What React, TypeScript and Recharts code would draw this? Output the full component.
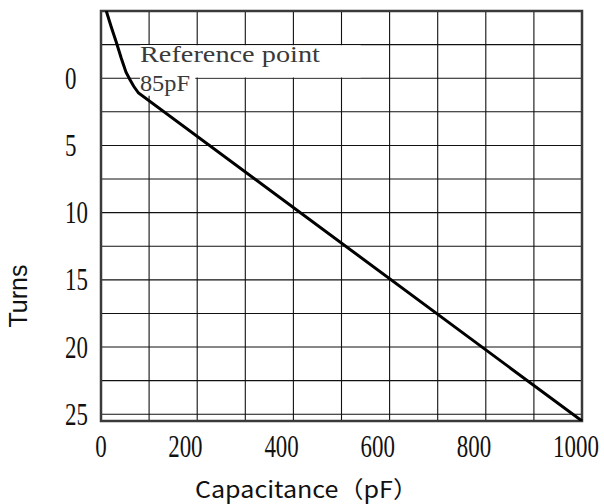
import React from "react";
import {
  LineChart,
  Line,
  XAxis,
  YAxis,
  CartesianGrid,
  ReferenceArea,
} from "recharts";

// capacitance (pF) vs. turns
const capacitance = [11, 21, 32, 42, 52, 60, 68, 78, 1000];
const turns = [-5, -3.85, -2.65, -1.5, -0.45, 0.1, 0.6, 1.1, 25.5];

const xTicks = [0, 100, 200, 300, 400, 500, 600, 700, 800, 900, 1000];
const xLabels = [0, 200, 400, 600, 800, 1000];
const yTicks = [-5, -2.5, 0, 2.5, 5, 7.5, 10, 12.5, 15, 17.5, 20, 22.5, 25];
const yLabels = [0, 5, 10, 15, 20, 25];

const annotation = ["Reference point", "85pF"];

const data = capacitance.map((c, i) => ({ c, t: turns[i] }));

const tickFont = "'Liberation Serif', serif";

// narrow serif digits, like the reference
function NarrowText({ x, y, anchor, children }: any) {
  return (
    <text
      transform={`translate(${x},${y}) scale(0.74,1)`}
      textAnchor={anchor}
      fontFamily={tickFont}
      fontSize={31}
      fill="#111"
    >
      {children}
    </text>
  );
}

function XTick(props: any) {
  const { x, y, payload } = props;
  if (!xLabels.includes(payload.value)) return <g />;
  const s = String(payload.value);
  const single = s.length === 1;
  return (
    <NarrowText x={single ? x : x - 29} y={y + 36} anchor={single ? "middle" : "start"}>
      {s}
    </NarrowText>
  );
}

function YTick(props: any) {
  const { x, y, payload } = props;
  if (!yLabels.includes(payload.value)) return <g />;
  return (
    <NarrowText x={x - 36} y={y + 10.5} anchor="start">
      {String(payload.value)}
    </NarrowText>
  );
}

function AnnotationLabel(props: any) {
  const vb = props.viewBox || { x: 0, y: 0 };
  return (
    <g fontFamily={tickFont} fontSize={23} fill="#3a3a3a">
      <text x={vb.x} y={vb.y + 17} textLength={180} lengthAdjust="spacingAndGlyphs">
        {annotation[0]}
      </text>
      <text x={vb.x} y={vb.y + 46} textLength={50} lengthAdjust="spacingAndGlyphs">
        {annotation[1]}
      </text>
    </g>
  );
}

function TurnsLabel(props: any) {
  const vb = props.viewBox || { x: 0, y: 0 };
  const x = vb.x + 27;
  const y = vb.y + 285;
  return (
    <text
      x={x}
      y={y}
      transform={`rotate(-90 ${x} ${y})`}
      textAnchor="middle"
      fontFamily="'Liberation Sans', Arial, sans-serif"
      fontSize={25}
      fill="#111"
    >
      Turns
    </text>
  );
}

function CapLabel(props: any) {
  const vb = props.viewBox || { x: 0, y: 0 };
  return (
    <text
      x={vb.x + 94}
      y={vb.y + 77}
      fontFamily="'Noto Sans CJK SC', sans-serif"
      fontSize={23}
      fill="#111"
      textLength={223}
      lengthAdjust="spacingAndGlyphs"
    >
      Capacitance（pF）
    </text>
  );
}

export default function App() {
  return (
    <div
      style={{
        position: "absolute",
        left: 0,
        top: 0,
        width: 604,
        height: 504,
        background: "#fff",
      }}
    >
      <LineChart
        width={604}
        height={504}
        data={data}
        margin={{ top: 11, right: 22, bottom: 0, left: 0 }}
      >
        <CartesianGrid stroke="#111" strokeWidth={1.1} />
        <XAxis
          dataKey="c"
          type="number"
          domain={[0, 1000]}
          ticks={xTicks}
          interval={0}
          height={83}
          axisLine={false}
          tickLine={false}
          tickSize={0}
          tickMargin={0}
          tick={<XTick />}
          label={<CapLabel />}
        />
        <YAxis
          type="number"
          domain={[-5, 25.5]}
          reversed
          allowDataOverflow
          ticks={yTicks}
          interval={0}
          width={101}
          axisLine={false}
          tickLine={false}
          tickSize={0}
          tickMargin={0}
          tick={<YTick />}
          label={<TurnsLabel />}
        />
        <ReferenceArea
          x1={81}
          x2={540}
          y1={-2.45}
          y2={-0.05}
          fill="#fff"
          fillOpacity={1}
          stroke="none"
        />
        <ReferenceArea
          x1={81}
          x2={196}
          y1={-2.45}
          y2={1.3}
          fill="#fff"
          fillOpacity={1}
          stroke="none"
          label={<AnnotationLabel />}
        />
        <ReferenceArea
          x1={0}
          x2={1000}
          y1={-5}
          y2={25.5}
          fill="none"
          stroke="#3a3a3a"
          strokeWidth={2.5}
        />
        <Line
          dataKey="t"
          type="linear"
          stroke="#000"
          strokeWidth={3}
          dot={false}
          activeDot={false}
          isAnimationActive={false}
        />
      </LineChart>
    </div>
  );
}
